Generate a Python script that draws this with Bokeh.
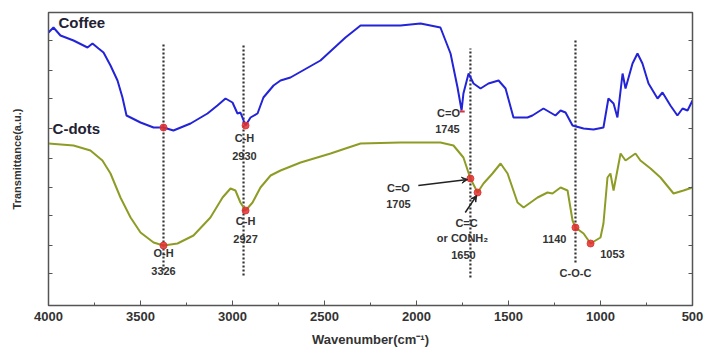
from bokeh.plotting import figure
from bokeh.models import (Range1d, FixedTicker, LinearAxis, Arrow, VeeHead, ColumnDataSource,
                          CustomJSTickFormatter)
from bokeh.core.properties import value
from bokeh.embed import file_html
from bokeh.resources import INLINE

FONT = value("Liberation Sans")

coffee_wn = [4000, 3973, 3935, 3864, 3788, 3761, 3728, 3701, 3663, 3625, 3598, 3576, 3554, 3500,
             3429, 3375, 3321, 3228, 3136, 3082, 3038, 3000, 2973, 2957, 2929, 2902, 2864, 2832,
             2777, 2739, 2685, 2522, 2386, 2304, 2087, 1978, 1870, 1815, 1777, 1755, 1745, 1717,
             1690, 1652, 1609, 1554, 1516, 1473, 1397, 1370, 1310, 1245, 1217, 1190, 1152, 1092,
             1038, 984, 957, 929, 908, 880, 864, 826, 799, 772, 739, 690, 663, 620, 582, 554,
             527, 500]
coffee_t = [273, 278, 270, 265, 258, 262, 257, 253, 240, 225, 208, 190, 188, 183,
            178, 178, 175, 182, 192, 200, 207, 203, 192, 193, 180, 188, 192, 208,
            220, 225, 228, 245, 268, 280, 280, 282, 278, 252, 218, 195, 212, 232,
            222, 217, 222, 225, 217, 188, 188, 190, 197, 190, 195, 193, 180, 177,
            176, 178, 207, 202, 188, 232, 217, 242, 252, 242, 222, 207, 213, 200, 190, 197,
            195, 205]

cdots_wn = [4000, 3864, 3772, 3707, 3663, 3609, 3554, 3500, 3429, 3375, 3299, 3212, 3120, 3054,
            3011, 2984, 2957, 2929, 2891, 2848, 2793, 2739, 2630, 2467, 2386, 2304, 2087, 1870,
            1799, 1745, 1707, 1668, 1636, 1587, 1543, 1505, 1451, 1418, 1342, 1288, 1261, 1217,
            1179, 1152, 1136, 1092, 1054, 1000, 984, 962, 946, 929, 891, 864, 810, 783, 728,
            674, 603, 549, 500]
cdots_t = [162, 160, 155, 145, 132, 108, 88, 73, 63, 60, 62, 70, 88, 108,
           117, 115, 103, 95, 103, 118, 130, 135, 143, 152, 157, 162, 163, 163,
           160, 148, 127, 113, 122, 132, 142, 132, 103, 98, 108, 113, 112, 118,
           115, 85, 78, 72, 62, 68, 82, 128, 132, 115, 152, 145, 152, 145, 137,
           128, 112, 115, 118]

band_lines_wn = [3375, 2940, 1707, 1136]
band_lines_top = [262, 260, 257, 267]
band_lines_bottom = [35, 30, 28, 43]

mark_wn = [3375, 2929, 3375, 2929, 1707, 1668, 1136, 1054]
mark_t = [178, 180, 60, 95, 127, 113, 78, 62]

label_text = ["C-H", "2930", "C=O", "1745", "O-H", "3326", "C-H", "2927", "C=O", "1705",
              "C=C", "or CONH\u2082", "1650", "1140", "1053", "C-O-C"]
label_wn = [2935, 2935, 1826, 1832, 3375, 3375, 2929, 2929, 2098, 2098,
            1728, 1750, 1745, 1250, 935, 1136]
label_t = [168, 150, 193, 177, 53, 35, 85, 67, 118, 102,
           83, 68, 51, 67, 52, 33]

x_ticks = [4000, 3500, 3000, 2500, 2000, 1500, 1000, 500]
x_minor = [3750, 3250, 2750, 2250, 1750, 1250, 750]
y_ticks = [32, 60, 90, 118, 147, 177, 207, 235, 265]

p = figure(width=710, height=356, output_backend="svg", toolbar_location=None,
           x_range=Range1d(4000, 500), y_range=Range1d(0, 293),
           min_border_left=48, min_border_right=18, min_border_top=12, min_border_bottom=51,
           background_fill_color="white", border_fill_color="white")
p.grid.visible = False
p.outline_line_color = "#555555"
p.outline_line_width = 1.5

blank = CustomJSTickFormatter(code="return ''")

xa = p.xaxis[0]
xa.ticker = FixedTicker(ticks=x_ticks, minor_ticks=x_minor)
xa.major_tick_in = 5
xa.major_tick_out = 0
xa.minor_tick_in = 3
xa.minor_tick_out = 0
xa.axis_line_color = "#555555"
xa.major_tick_line_color = "#555555"
xa.minor_tick_line_color = "#555555"
xa.major_label_text_font = "Liberation Sans"
xa.major_label_text_font_style = "bold"
xa.major_label_text_font_size = "13px"
xa.major_label_text_color = "#333333"
xa.major_label_standoff = 6
xa.axis_label = "Wavenumber(cm\u207b\u00b9)"
xa.axis_label_text_font = "Liberation Sans"
xa.axis_label_text_font_style = "bold"
xa.axis_label_text_font_size = "13px"
xa.axis_label_text_color = "#333333"
xa.axis_label_standoff = 8

ya = p.yaxis[0]
ya.ticker = FixedTicker(ticks=y_ticks, minor_ticks=[])
ya.formatter = blank
ya.major_tick_in = 4
ya.major_tick_out = 0
ya.axis_line_color = "#555555"
ya.major_tick_line_color = "#555555"
ya.axis_label = "Transmittance(a.u.)"
ya.axis_label_text_font = "Liberation Sans"
ya.axis_label_text_font_style = "bold"
ya.axis_label_text_font_size = "11px"
ya.axis_label_text_color = "#333333"
ya.axis_label_standoff = 26

ra = LinearAxis(ticker=FixedTicker(ticks=y_ticks, minor_ticks=[]), formatter=blank)
ra.major_tick_in = 4
ra.major_tick_out = 0
ra.axis_line_color = "#555555"
ra.major_tick_line_color = "#555555"
p.add_layout(ra, "right")

for wn, top, bot in zip(band_lines_wn, band_lines_top, band_lines_bottom):
    p.line([wn, wn], [bot, top], line_color="#333333", line_width=2.2, line_dash="2 2")

p.line(coffee_wn, coffee_t, line_color="#2323d8", line_width=2)
p.line(cdots_wn, cdots_t, line_color="#8e9c26", line_width=2)

p.scatter(mark_wn, mark_t, size=7, color="#e03030", alpha=0.85)
p.line([1765, 1738], [194, 194], line_color="#e03030", line_width=2)

p.text([3946], [283], text=["Coffee"], text_font=FONT, text_font_style="bold",
       text_font_size="15px", text_color="#222233", text_baseline="middle", text_align="left")
p.text([3978], [177], text=["C-dots"], text_font=FONT, text_font_style="bold",
       text_font_size="15px", text_color="#222233", text_baseline="middle", text_align="left")

src = ColumnDataSource(dict(x=label_wn, y=label_t, t=label_text))
p.text("x", "y", text="t", source=src, text_font=FONT, text_font_style="bold",
       text_font_size="11px", text_color="#333333", text_baseline="middle", text_align="center")

p.add_layout(Arrow(x_start=1990, y_start=120, x_end=1722, y_end=126, line_color="#222222",
                   line_width=1.5, end=VeeHead(size=6, line_color="#222222", fill_color="#222222")))
p.add_layout(Arrow(x_start=1735, y_start=93, x_end=1673, y_end=110, line_color="#222222",
                   line_width=1.5, end=VeeHead(size=6, line_color="#222222", fill_color="#222222")))

open("out.html", "w").write(file_html(p, INLINE))
